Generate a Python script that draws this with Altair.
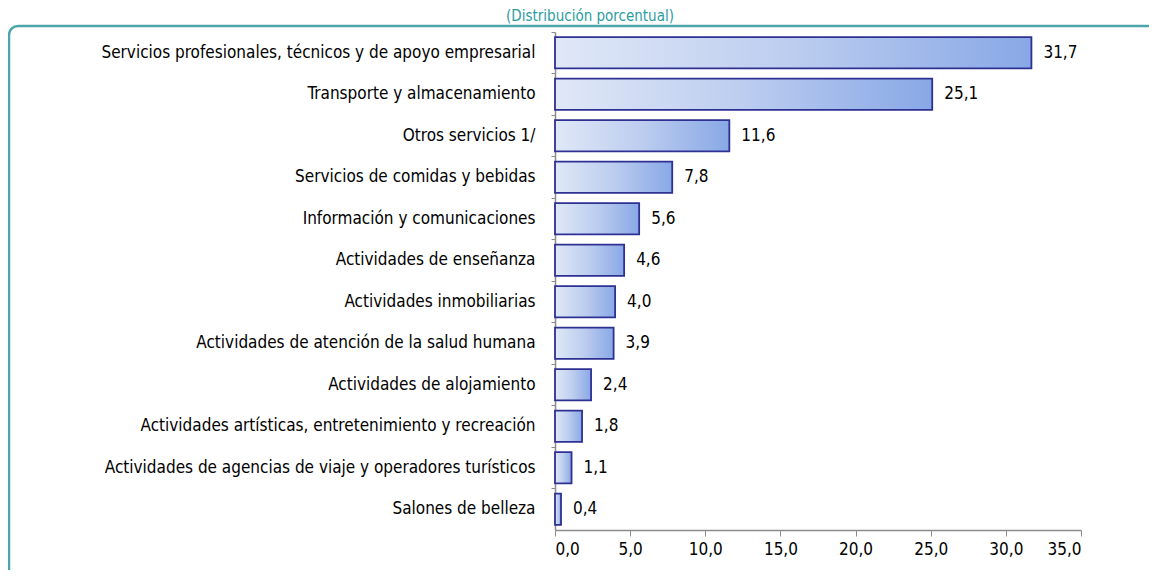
import altair as alt
import pandas as pd

categories = [
    "Servicios profesionales, técnicos y de apoyo empresarial",
    "Transporte y almacenamiento",
    "Otros servicios 1/",
    "Servicios de comidas y bebidas",
    "Información y comunicaciones",
    "Actividades de enseñanza",
    "Actividades inmobiliarias",
    "Actividades de atención de la salud humana",
    "Actividades de alojamiento",
    "Actividades artísticas, entretenimiento y recreación",
    "Actividades de agencias de viaje y operadores turísticos",
    "Salones de belleza",
]
values = [31.7, 25.1, 11.6, 7.8, 5.6, 4.6, 4.0, 3.9, 2.4, 1.8, 1.1, 0.4]
x_ticks = [0, 5, 10, 15, 20, 25, 30, 35]
subtitle = "(Distribución porcentual)"

df = pd.DataFrame({"cat": categories, "val": values})

FONT = "Liberation Sans Narrow, DejaVu Sans Condensed, Arial Narrow, sans-serif"
W, H = 526, 498

y_enc = alt.Y(
    "cat:N",
    sort=categories,
    title=None,
    scale=alt.Scale(paddingInner=0, paddingOuter=0),
    axis=alt.Axis(
        bandPosition=0,
        tickSize=4,
        labelPadding=16,
        labelFontSize=17,
        labelFont=FONT,
        labelColor="#000000",
        domainColor="#8c8c8c",
        tickColor="#8c8c8c",
        labelLimit=600,
        domainWidth=1.5,
    ),
)
x_enc = alt.X(
    "val:Q",
    title=None,
    scale=alt.Scale(domain=[0, 35], nice=False),
    axis=alt.Axis(
        values=x_ticks,
        grid=False,
        tickSize=6,
        labelPadding=5,
        labelFontSize=17,
        labelFont=FONT,
        labelColor="#000000",
        domainColor="#8c8c8c",
        tickColor="#8c8c8c",
        domainWidth=1.5,
        labelExpr="replace(format(datum.value, '.1f'), '.', ',')",
    ),
)

grad = alt.Gradient(
    gradient="linear",
    stops=[
        alt.GradientStop(color="#e0e8f7", offset=0),
        alt.GradientStop(color="#bccdef", offset=0.5),
        alt.GradientStop(color="#88a8e6", offset=1),
    ],
    x1=0, x2=1, y1=0, y2=0,
)

bars = alt.Chart(df).mark_bar(
    color=grad,
    stroke="#2e3192",
    strokeWidth=1.8,
    height={"band": 0.75},
).encode(y=y_enc, x=x_enc)

labels = alt.Chart(df).transform_calculate(
    lbl="replace(format(datum.val, '.1f'), '.', ',')"
).mark_text(
    align="left", baseline="middle", dx=12, fontSize=17, font=FONT, color="#000000"
).encode(y=alt.Y("cat:N", sort=categories), x="val:Q", text="lbl:N")

frame = alt.Chart(alt.Data(values=[{}])).mark_rect(
    fill=None, stroke="#4ca6a9", strokeWidth=2.5, cornerRadius=9
).encode(
    x=alt.value(-546), x2=alt.value(640),
    y=alt.value(-6), y2=alt.value(600),
)

sub = alt.Chart(alt.Data(values=[{"t": subtitle}])).mark_text(
    align="center", baseline="alphabetic", fontSize=15, font=FONT, color="#2a9d9f"
).encode(x=alt.value(35), y=alt.value(-11), text="t:N")

chart = alt.layer(frame, bars, labels, sub).properties(
    width=W,
    height=H,
    autosize=alt.AutoSizeParams(type="none"),
    padding={"left": 547, "top": 24, "right": 68, "bottom": 40},
).configure_view(stroke=None)

chart.save("out.html", embed_options={"renderer": "svg", "actions": False})
